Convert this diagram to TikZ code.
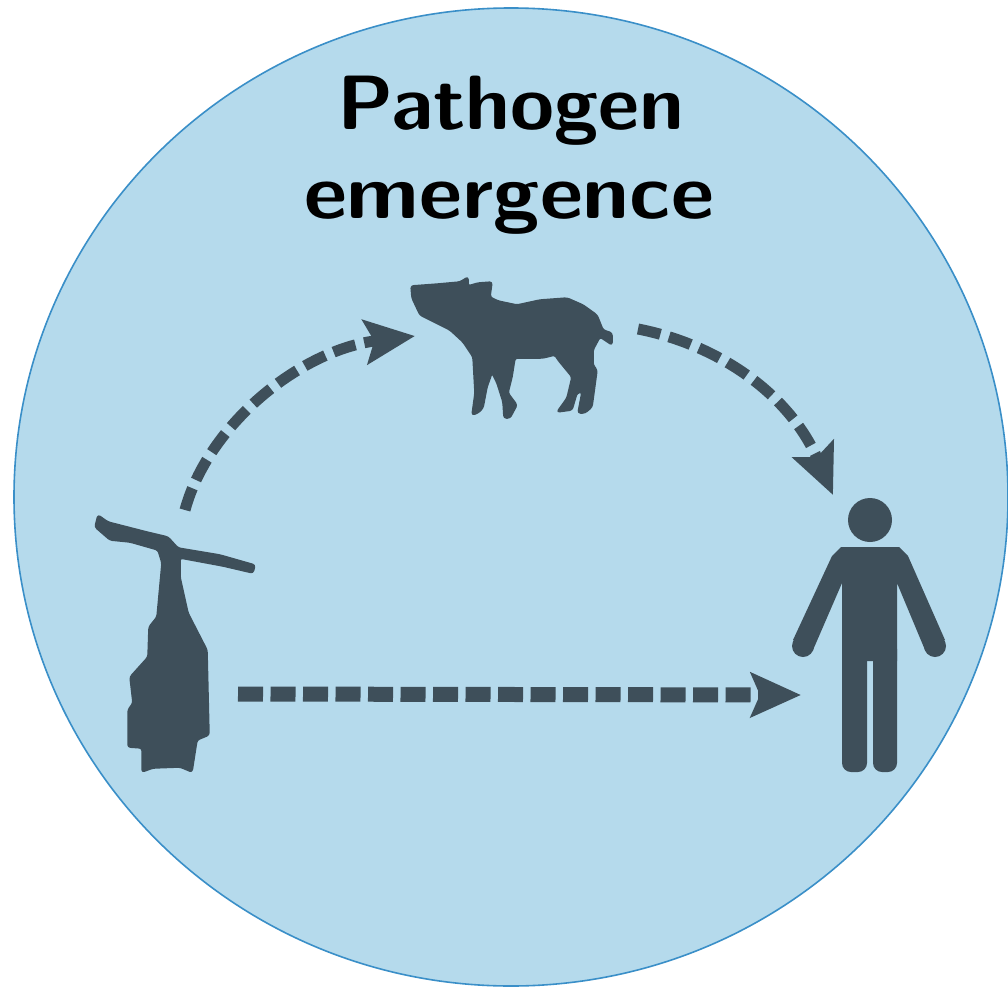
\documentclass[tikz,border=0pt]{standalone}
\usepackage{graphicx}
\usetikzlibrary{arrows.meta}
\definecolor{discfill}{HTML}{B5DAEC}
\definecolor{discline}{HTML}{3A8FC8}
\definecolor{slate}{HTML}{3E4F5A}
\tikzset{
  disc/.style={draw=discline,line width=1.6pt,fill=discfill},
  silhouette/.style={fill=slate,draw=slate,line width=1.5pt,line join=round,rounded corners=2.5pt},
  solidshape/.style={fill=slate,draw=none},
  flow/.style={draw=slate,line width=11pt,dash pattern=on 23pt off 9pt,
    -{Stealth[length=50pt,width=44pt,inset=9pt,fill=slate]}},
  straightflow/.style={flow,line width=15pt,dash pattern=on 25pt off 7.5pt},
  titletext/.style={text=black,font=\sffamily\bfseries\fontsize{77}{90}\selectfont,anchor=base,inner sep=0pt},
}
\begin{document}
\begin{tikzpicture}[x=1pt,y=-1pt]
\useasboundingbox (0,0) rectangle (1008,987);
\fill[white] (0,0) rectangle (1008,987);
\begin{scope}
\clip (0,0) rectangle (1008,987);
\draw[disc] (511,497) ellipse [x radius=497,y radius=489];
\end{scope}
\node[titletext] (t1) at (511,130) {\scalebox{1.04}[1]{Pathogen}};
\node[titletext] (t2) at (509,218) {\scalebox{1.09}[1]{emergence}};
% bat
\fill[silhouette] (98,515) -- (108,522) -- (147,532) -- (168,537) -- (178,548) -- (220,555) -- (255,565) -- (253,573) -- (223,566) -- (180,558) -- (180,577) -- (188,613) -- (207,650) -- (209,735) -- (197,740) -- (192,772) -- (180,767) -- (153,768) -- (142,772) -- (142,748) -- (128,747) -- (128,710) -- (133,703) -- (130,677) -- (148,657) -- (149,627) -- (157,617) -- (162,563) -- (158,550) -- (130,542) -- (110,540) -- (95,527) -- cycle;
% pig
\fill[silhouette] (411,286) -- (438,284) -- (460,282) -- (468,277) -- (468,286) -- (478,283) -- (492,282) -- (490,297) -- (498,301) -- (517,305) -- (540,300) -- (567,298) -- (583,305) -- (597,315) -- (603,330) -- (612,333) -- (612,345) -- (600,337) -- (593,350) -- (593,365) -- (597,370) -- (595,385) -- (592,407) -- (585,413) -- (578,413) -- (582,392) -- (577,393) -- (572,410) -- (557,412) -- (567,398) -- (572,377) -- (558,360) -- (555,355) -- (543,358) -- (515,358) -- (512,377) -- (508,393) -- (517,405) -- (510,418) -- (504,418) -- (503,402) -- (497,383) -- (492,373) -- (487,387) -- (483,408) -- (478,413) -- (472,415) -- (475,393) -- (473,357) -- (463,342) -- (450,330) -- (420,315) -- (412,298) -- cycle;
% person
\fill[solidshape] (870,520) circle [radius=22];
\fill[solidshape] (832,556) -- (841,547) -- (899,547) -- (908,556) -- (945,640) -- (925,650) -- (897,583) -- (897,661) -- (842,661) -- (842,583) -- (813,650) -- (793,640) -- cycle;
\fill[solidshape] (935,646) circle [radius=11];
\fill[solidshape] (803,646) circle [radius=11];
\fill[solidshape,rounded corners=9pt] (842,640) rectangle (867,772);
\fill[solidshape,rounded corners=9pt] (873,640) rectangle (897,772);
% connector ends
\coordinate (batTop) at (185,510);
\coordinate (pigIn) at (415,336);
\coordinate (pigOut) at (638,329);
\coordinate (humanTop) at (833,495);
\coordinate (batSide) at (238,694);
\coordinate (humanSide) at (801,695);
\draw[flow] (batTop) .. controls (208,425) and (300,350) .. (pigIn);
\draw[flow] (pigOut) .. controls (720,345) and (790,395) .. (humanTop);
\draw[straightflow] (batSide) -- (humanSide);
\end{tikzpicture}
\end{document}
